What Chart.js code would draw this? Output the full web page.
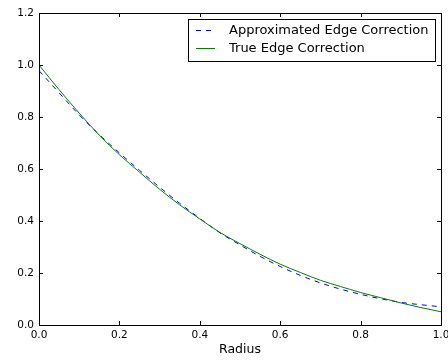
<!DOCTYPE html>
<html lang="en">
<head>
  <meta charset="UTF-8" />
  <title>Edge Correction</title>
  <script src="https://cdn.jsdelivr.net/npm/chart.js"></script>
  <style>
    html, body { margin: 0; padding: 0; background: #fff; }
    #wrap { width: 448px; height: 360px; }
  </style>
</head>
<body>
  <div id="wrap"><canvas id="edgeChart" width="448" height="360"></canvas></div>
  <script>
    // values
    const radius = [0.00, 0.05, 0.10, 0.15, 0.20, 0.25, 0.30, 0.35, 0.40, 0.45, 0.50,
                    0.55, 0.60, 0.65, 0.70, 0.75, 0.80, 0.85, 0.90, 0.95, 1.00];
    const approxCorrection = [0.978, 0.893, 0.808, 0.732, 0.662, 0.595, 0.530, 0.468, 0.410, 0.355, 0.308,
                              0.264, 0.225, 0.191, 0.162, 0.138, 0.118, 0.101, 0.087, 0.078, 0.070];
    const trueCorrection = [1.000, 0.905, 0.815, 0.730, 0.655, 0.588, 0.522, 0.462, 0.408, 0.356, 0.313,
                            0.272, 0.234, 0.202, 0.172, 0.148, 0.125, 0.105, 0.085, 0.067, 0.051];
    const xTickLabels = ['0.0', '0.2', '0.4', '0.6', '0.8', '1.0'];
    const yTickLabels = ['0.0', '0.2', '0.4', '0.6', '0.8', '1.0', '1.2'];

    const FONT = '"DejaVu Sans", sans-serif';

    // matplotlib style frame: full box and inward ticks on all sides, legend box top right
    const framePlugin = {
      id: 'frame',
      afterDatasetsDraw(chart) {
        const { ctx, chartArea: a, scales } = chart;
        ctx.save();
        ctx.strokeStyle = '#000';
        ctx.lineWidth = 1;
        ctx.beginPath();
        scales.x.ticks.forEach(t => {
          const px = Math.round(scales.x.getPixelForValue(t.value)) + 0.5;
          ctx.moveTo(px, a.bottom); ctx.lineTo(px, a.bottom - 4);
          ctx.moveTo(px, a.top); ctx.lineTo(px, a.top + 4);
        });
        scales.y.ticks.forEach(t => {
          const py = Math.round(scales.y.getPixelForValue(t.value)) + 0.5;
          ctx.moveTo(a.left, py); ctx.lineTo(a.left + 4, py);
          ctx.moveTo(a.right, py); ctx.lineTo(a.right - 4, py);
        });
        ctx.stroke();
        ctx.strokeRect(Math.round(a.left) + 0.5, Math.round(a.top) + 0.5,
                       Math.round(a.right - a.left), Math.round(a.bottom - a.top));

        // legend
        ctx.font = '13px ' + FONT;
        const sets = chart.data.datasets;
        const textW = Math.max(...sets.map(d => ctx.measureText(d.label).width));
        const w = Math.round(41 + textW + 6);
        const right = Math.round(a.right) - 6;
        const top = Math.round(a.top) + 6;
        const left = right - w;
        ctx.fillStyle = '#fff';
        ctx.fillRect(left, top, w, 42);
        ctx.strokeRect(left + 0.5, top + 0.5, w, 42);
        sets.forEach((ds, i) => {
          const cy = top + 11.5 + i * 18;
          ctx.beginPath();
          ctx.setLineDash(ds.borderDash || []);
          ctx.strokeStyle = ds.borderColor;
          ctx.lineWidth = ds.borderWidth;
          ctx.moveTo(left + 8, cy);
          ctx.lineTo(left + 27, cy);
          ctx.stroke();
          ctx.setLineDash([]);
          ctx.fillStyle = '#000';
          ctx.textBaseline = 'middle';
          ctx.textAlign = 'left';
          ctx.fillText(ds.label, left + 41, cy);
        });
        ctx.restore();
      }
    };

    new Chart(document.getElementById('edgeChart'), {
      type: 'line',
      data: {
        datasets: [{
          label: 'Approximated Edge Correction',
          data: radius.map((r, i) => ({ x: r, y: approxCorrection[i] })),
          borderColor: '#0000ff',
          borderWidth: 1,
          borderDash: [5, 5],
          pointRadius: 0,
          cubicInterpolationMode: 'monotone',
          order: 1
        }, {
          label: 'True Edge Correction',
          data: radius.map((r, i) => ({ x: r, y: trueCorrection[i] })),
          borderColor: '#008000',
          borderWidth: 1,
          pointRadius: 0,
          cubicInterpolationMode: 'monotone',
          order: 0
        }]
      },
      options: {
        responsive: false,
        animation: false,
        devicePixelRatio: 1,
        layout: { padding: { top: 13, right: 7, left: 0, bottom: 0 } },
        plugins: { legend: { display: false }, tooltip: { enabled: false } },
        scales: {
          x: {
            type: 'linear',
            min: 0, max: 1,
            grid: { display: false, drawTicks: false },
            border: { display: false },
            ticks: {
              stepSize: 0.2,
              padding: 4,
              color: '#000',
              font: { family: FONT, size: 10.5 },
              maxRotation: 0,
              callback: v => xTickLabels[Math.round(v / 0.2)]
            },
            title: {
              display: true,
              text: 'Radius',
              color: '#000',
              font: { family: FONT, size: 12.5 },
              padding: { top: 0, bottom: 3 }
            },
            afterFit(scale) {
              scale.height = 35;
              scale.paddingLeft = 0;
              scale.paddingRight = 0;
            }
          },
          y: {
            min: 0, max: 1.2,
            grid: { display: false, drawTicks: false },
            border: { display: false },
            ticks: {
              stepSize: 0.2,
              padding: 5,
              color: '#000',
              font: { family: FONT, size: 10.5 },
              callback: v => yTickLabels[Math.round(v / 0.2)]
            },
            afterFit(scale) {
              scale.width = 39;
            }
          }
        }
      },
      plugins: [framePlugin]
    });
  </script>
</body>
</html>
